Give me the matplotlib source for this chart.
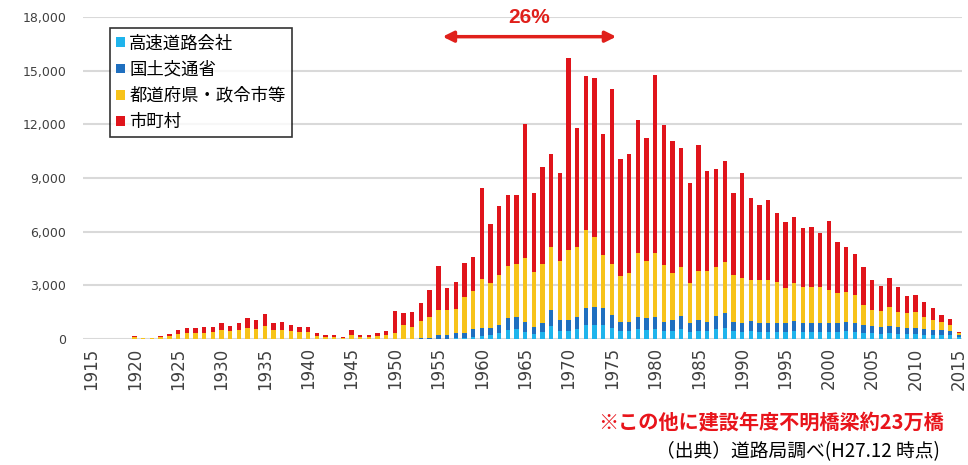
import matplotlib.pyplot as plt
from matplotlib.patches import Patch

plt.rcParams['font.family'] = ['Noto Sans CJK JP', 'DejaVu Sans']

# construction year (1915 - 2015)
years = list(range(1915, 2016))

# 高速道路会社
kosoku = [
    0, 0, 0, 0, 0, 0, 0, 0, 0, 0,
    0, 0, 0, 0, 0, 0, 0, 0, 0, 0,
    0, 0, 0, 0, 0, 0, 0, 0, 0, 0,
    0, 0, 0, 0, 0, 0, 0, 0, 0, 0,
    20, 20, 40, 40, 130, 180, 220, 310, 480, 550,
    410, 290, 380, 720, 460, 460, 550, 760, 810, 760,
    590, 420, 420, 550, 510, 540, 430, 470, 570, 390,
    470, 430, 570, 640, 430, 390, 440, 410, 410, 390,
    390, 450, 410, 390, 390, 410, 390, 430, 410, 350,
    320, 300, 320, 300, 260, 260, 250, 220, 220, 200,
    100,
]

# 国土交通省
kokkosho = [
    0, 0, 0, 0, 0, 10, 0, 0, 0, 10,
    10, 10, 10, 10, 10, 10, 10, 10, 10, 10,
    10, 10, 10, 10, 10, 10, 10, 10, 10, 10,
    10, 10, 10, 10, 10, 20, 20, 20, 30, 50,
    200, 180, 280, 280, 420, 420, 380, 470, 680, 700,
    560, 400, 500, 900, 600, 600, 700, 950, 1000, 950,
    750, 550, 550, 700, 650, 680, 540, 590, 720, 490,
    590, 540, 720, 800, 540, 490, 560, 510, 510, 490,
    490, 570, 510, 490, 490, 510, 490, 540, 510, 430,
    410, 390, 410, 390, 340, 340, 310, 280, 280, 250,
    150,
]

# 都道府県・政令市等
todofuken = [
    5, 5, 5, 10, 10, 90, 30, 30, 100, 140,
    270, 320, 330, 350, 380, 470, 410, 490, 620, 570,
    730, 470, 510, 420, 370, 360, 160, 110, 120, 60,
    230, 110, 110, 170, 220, 330, 760, 670, 990, 1200,
    1400, 1420, 1330, 2040, 2150, 2740, 2510, 2800, 2920, 2940,
    3540, 3080, 3310, 3540, 3320, 3920, 3910, 4380, 3910, 2990,
    2850, 2550, 2700, 3580, 3220, 3610, 3170, 2650, 2750, 2270,
    2760, 2850, 2750, 2860, 2610, 2510, 2300, 2380, 2380, 2320,
    1950, 2130, 2000, 2020, 2020, 1820, 1710, 1680, 1540, 1120,
    890, 900, 1080, 840, 840, 900, 690, 560, 470, 330,
    100,
]

# 市町村
shichoson = [
    5, 5, 5, 10, 10, 80, 30, 30, 80, 110,
    220, 270, 260, 290, 300, 400, 320, 410, 560, 480,
    640, 400, 450, 350, 310, 320, 150, 100, 120, 50,
    260, 100, 100, 170, 220, 1230, 690, 840, 980, 1490,
    2460, 1210, 1550, 1870, 1900, 5120, 3320, 3850, 3970, 3860,
    7510, 4370, 5410, 5160, 4920, 10710, 6620, 8610, 8850, 6760,
    9800, 6540, 6670, 7410, 6840, 9930, 7820, 7380, 6620, 5590,
    7030, 5570, 5450, 5650, 4560, 5910, 4600, 4190, 4470, 3860,
    3730, 3690, 3270, 3380, 3010, 3860, 2850, 2510, 2290, 2110,
    1680, 1390, 1580, 1360, 960, 960, 800, 650, 370, 320,
    60,
]

labels = ['高速道路会社', '国土交通省', '都道府県・政令市等', '市町村']
colors = ['#1FB4EC', '#1F6FBF', '#F7C31A', '#E0141B']

fig = plt.figure(figsize=(9.68, 4.65), dpi=100)
ax = fig.add_axes([83 / 968, 126 / 465, 879 / 968, 322 / 465])

series = [kosoku, kokkosho, todofuken, shichoson]
bottom = [0] * len(years)
for vals, col in zip(series, colors):
    ax.bar(years, vals, width=0.5, bottom=bottom, color=col, linewidth=0, zorder=3)
    bottom = [b + v for b, v in zip(bottom, vals)]

ax.set_xlim(1914.05, 2015.35)
ax.set_ylim(0, 18000)
ax.set_yticks(range(0, 18001, 3000))
ax.set_yticklabels([f'{v:,}' for v in range(0, 18001, 3000)],
                   family='DejaVu Sans', fontsize=9, color='#404040')
ax.set_xticks(range(1915, 2016, 5))
ax.set_xticklabels([str(y) for y in range(1915, 2016, 5)], rotation=90,
                   family='DejaVu Sans', fontsize=12, color='#404040')
ax.tick_params(axis='y', length=0, pad=12)
ax.tick_params(axis='x', length=0, pad=6)
ax.grid(axis='y', color='#D9D9D9', linewidth=1.5, zorder=0)
for s in ax.spines.values():
    s.set_visible(False)

handles = [Patch(facecolor=c, edgecolor='none') for c in colors]
leg = ax.legend(handles, labels, loc='upper left', bbox_to_anchor=(0.031, 0.965),
                fontsize=12.5, frameon=True, fancybox=False, edgecolor='black',
                handlelength=0.5, handleheight=0.5, handletextpad=0.25,
                labelspacing=0.48, borderpad=0.35, borderaxespad=0)
leg.get_frame().set_linewidth(1.2)
leg.set_zorder(5)

# 26% arrow over 1955-1975
ax.annotate('', xy=(1955.5, 16900), xytext=(1975.5, 16900),
            arrowprops=dict(arrowstyle='<|-|>', color='#E0201B', lw=2.5,
                            mutation_scale=16, shrinkA=0, shrinkB=0),
            annotation_clip=False, zorder=6)
ax.text(1965.5, 18000, '26%', ha='center', va='center', color='#E0201B',
        fontsize=15, fontweight='bold',
        family=['Liberation Sans', 'DejaVu Sans'], clip_on=False)

fig.text(944 / 968, 1 - 422 / 465, '※この他に建設年度不明橋梁約23万橋',
         ha='right', va='center', color='#E8141B', fontsize=14.5, fontweight='bold')
fig.text(940 / 968, 1 - 452 / 465, '（出典）道路局調べ(H27.12 時点)',
         ha='right', va='center', color='black', fontsize=13.5)

fig.savefig('out.png', dpi=100)
